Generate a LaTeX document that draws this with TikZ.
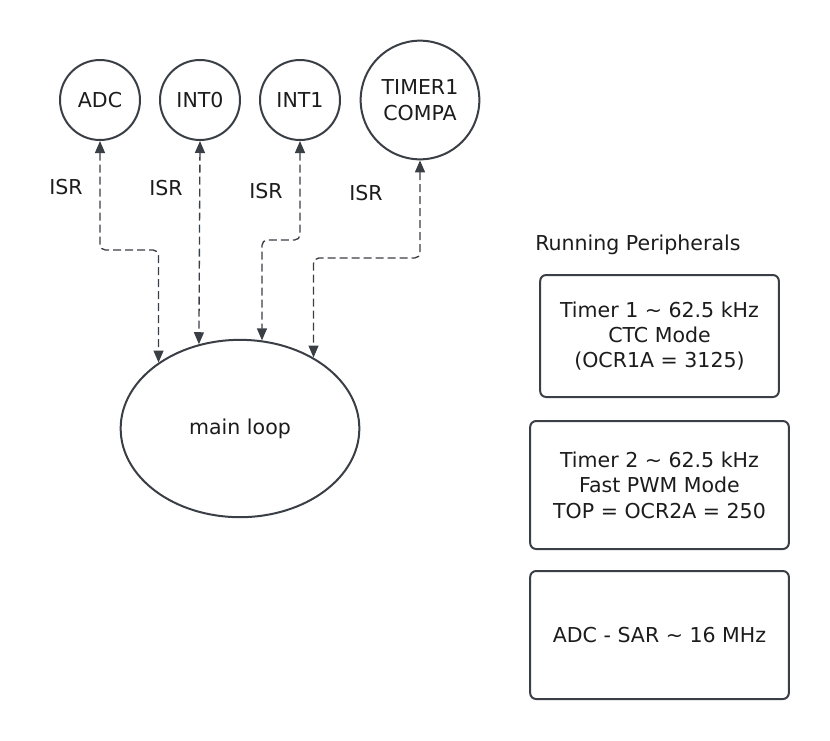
\documentclass[tikz,border=0pt]{standalone}
\usepackage{fontspec}
\setmainfont{DejaVu Sans}
\usetikzlibrary{arrows.meta,shapes.geometric}
\definecolor{edge}{HTML}{3A3E45}
\definecolor{ink}{HTML}{1C1C1C}
\begin{document}
\begin{tikzpicture}[x=0.75pt,y=-0.75pt,font=\fontsize{15.4pt}{19pt}\selectfont,
	irq/.style={circle,draw=edge,line width=1.5pt,text=ink,inner sep=0pt,align=center,minimum size=#1},
	irq/.default=60pt,
	isr/.style={draw=edge,line width=1pt,dash pattern=on 6pt off 3pt,rounded corners=4pt,
		{Triangle[length=9pt,width=7.5pt]}-{Triangle[length=9pt,width=7.5pt]}},
	periph/.style={rectangle,draw=edge,line width=1.5pt,rounded corners=4.5pt,text=ink,align=center,
		minimum width=#1}]
	\useasboundingbox (0,0) rectangle (830,740);
	% interrupt sources
	\node [irq] (adc) at (100,100) {ADC};
	\node [irq] (int0) at (200,100) {INT0};
	\node [irq] (int1) at (300,100) {INT1};
	\node [irq=89pt] (timer1) at (420,100) {TIMER1\\COMPA};
	\node [ellipse,draw=edge,line width=1.5pt,text=ink,minimum width=179pt,minimum height=133pt] (main) at (240,428.5) {main loop};
	\node [text=ink] (isr1) at (66,187) {ISR};
	\node [text=ink] (isr2) at (166,188) {ISR};
	\node [text=ink] (isr3) at (266,191) {ISR};
	\node [text=ink] (isr4) at (366,193) {ISR};
	\coordinate (bend1) at (main.141 |- 0,250);
	\coordinate (bend3) at (main.76 |- 0,240);
	\coordinate (bend4) at (main.44 |- 0,258);
	\draw [isr] (adc.south) |- (bend1) -- (main.141);
	\draw [isr] (int0.south) -- (main.116);
	\draw [isr] (int1.south) |- (bend3) -- (main.76);
	\draw [isr] (timer1.south) |- (bend4) -- (main.44);
	% peripherals
	\node [text=ink,anchor=west,inner sep=0pt] (title) at (535,245) {Running Peripherals};
	\node [periph=179pt,minimum height=91.5pt] (timer1box) at (659.5,336) {Timer 1 \textasciitilde{} 62.5 kHz\\CTC Mode\\(OCR1A = 3125)};
	\node [periph=194pt,minimum height=96pt] (timer2box) at (659.5,485) {Timer 2 \textasciitilde{} 62.5 kHz\\Fast PWM Mode\\TOP = OCR2A = 250};
	\node [periph=194pt,minimum height=96pt] (adcbox) at (659.5,635) {ADC - SAR \textasciitilde{} 16 MHz};
\end{tikzpicture}
\end{document}
